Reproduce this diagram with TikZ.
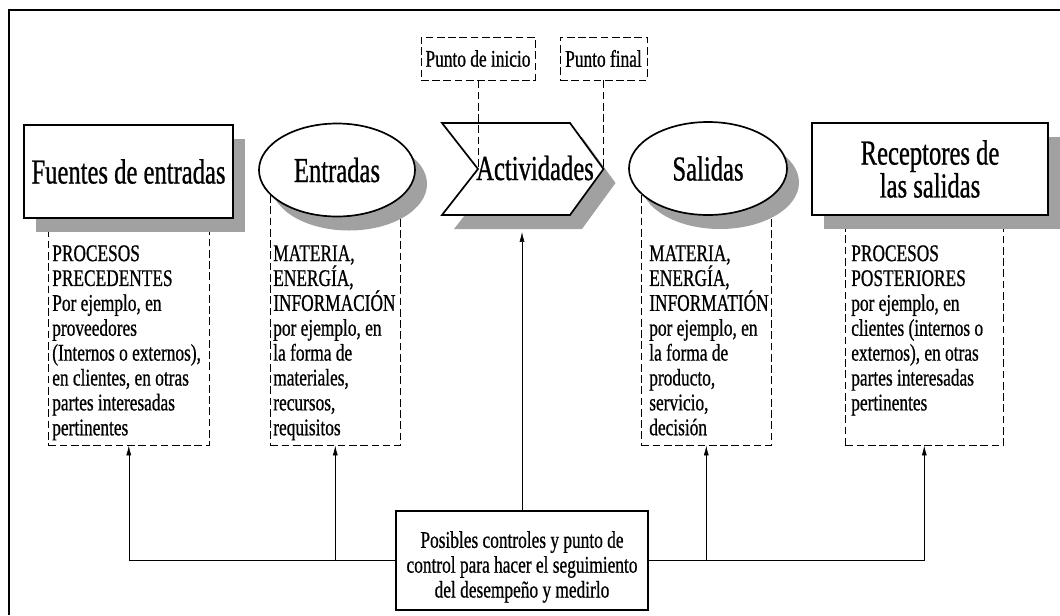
\documentclass[tikz,border=0pt]{standalone}
\usepackage{fontspec}
\setmainfont{Liberation Serif}[FakeStretch=0.725, FakeBold=0.7]
\newfontfamily\titlefamily{Liberation Serif}[FakeStretch=0.70, FakeBold=0.7]
\usetikzlibrary{shapes.geometric, arrows.meta, shadows}
\newcommand{\titlefont}{\titlefamily\fontsize{25}{23.4}\selectfont}
\newcommand{\notefont}{\fontsize{17}{17.7}\selectfont}
\tikzstyle{grayshadow} = [drop shadow={shadow xshift=0.3cm, shadow yshift=-0.35cm, fill=black!37, opacity=1}]
\tikzstyle{source} = [rectangle, draw, line width=1.2pt, fill=white, inner sep=0pt, text centered, font=\titlefont, grayshadow]
\tikzstyle{flow} = [ellipse, draw, line width=1.2pt, fill=white, inner sep=0pt, minimum width=3.9cm, minimum height=2.325cm, font=\titlefont, grayshadow]
\tikzstyle{procshape} = [draw, line width=1.2pt, fill=white, line join=miter, grayshadow]
\tikzstyle{title} = [inner sep=0pt, font=\titlefont]
\tikzstyle{infobox} = [rectangle, draw, thin, dash pattern=on 5.5pt off 2.5pt, anchor=north west, inner sep=0pt]
\tikzstyle{infotext} = [anchor=north west, inner sep=0pt, align=left, font=\notefont]
\tikzstyle{marker} = [rectangle, draw, thin, dash pattern=on 5.5pt off 2.5pt, inner sep=0pt, minimum height=1.075cm, font=\notefont]
\tikzstyle{control} = [rectangle, draw, line width=1.2pt, minimum width=6.3cm, minimum height=2.475cm, align=center, font=\notefont]
\tikzstyle{arrow} = [thin, -{Latex[length=7pt,width=3.5pt]}]
\tikzstyle{guide} = [thin, dash pattern=on 5.5pt off 2.5pt]

\begin{document}
\begin{tikzpicture}
            \useasboundingbox (0,0) rectangle (26.5,-15.375);
            \draw [line width=1.6pt] (0.225,-15.375) -- (0.225,-0.25) -- (26.5,-0.25);
            % dashed boxes first, the shapes cover their tops
            \node [infobox, minimum width=4.025cm, minimum height=6.125cm] at (1.2,-5.0) (fuenteinfo) {};
            \node [infobox, minimum width=3.25cm, minimum height=6.625cm] at (6.75,-4.5) (entradainfo) {};
            \node [infobox, minimum width=3.25cm, minimum height=6.625cm] at (16.025,-4.5) (salidainfo) {};
            \node [infobox, minimum width=3.95cm, minimum height=6.125cm] at (21.125,-5.0) (receptorinfo) {};
            \node [infotext] at (1.3,-6.125) (fuentetxt) {PROCESOS\\PRECEDENTES\\Por ejemplo, en\\proveedores\\(Internos o externos),\\en clientes, en otras\\partes interesadas\\pertinentes};
            \node [infotext] at (6.825,-6.125) (entradatxt) {MATERIA,\\ENERGÍA,\\INFORMACIÓN\\por ejemplo, en\\la forma de\\materiales,\\recursos,\\requisitos};
            \node [infotext] at (16.225,-6.125) (salidatxt) {MATERIA,\\ENERGÍA,\\INFORMATIÓN\\por ejemplo, en\\la forma de\\producto,\\servicio,\\decisión};
            \node [infotext] at (21.275,-6.125) (receptortxt) {PROCESOS\\POSTERIORES\\por ejemplo, en\\clientes (internos o\\externos), en otras\\partes interesadas\\pertinentes};
            % main chain
            \node [source, minimum width=5.225cm, minimum height=2.325cm] at (3.2125,-4.2875) (fuente) {Fuentes de entradas};
            \node [flow] at (8.425,-4.25) (entrada) {Entradas};
            \draw [procshape] (11.05,-3.075) -- (14.25,-3.075) -- (15.0875,-4.225) -- (14.25,-5.375) -- (11.05,-5.375) -- (11.95,-4.225) -- cycle;
            \coordinate (actnotch) at (11.95,-4.225);
            \coordinate (acttip) at (15.0875,-4.225);
            \coordinate (actbase) at (13.05,-5.8);
            \node [title] at (13.375,-4.2) (actividad) {Actividades};
            \node [flow, minimum width=3.95cm] at (17.7,-4.2125) (salida) {Salidas};
            \node [source, minimum width=5.9cm, minimum height=2.3cm, align=center] at (23.25,-4.225) (receptor) {Receptores de\\las salidas};
            % start and end markers
            \node [marker, minimum width=2.85cm] at (11.95,-1.4625) (inicio) {Punto de inicio};
            \node [marker, minimum width=2.175cm] at (15.0875,-1.4625) (final) {Punto final};
            \draw [guide] (inicio.south) -- (actnotch);
            \draw [guide] (final.south) -- (acttip);
            % control
            \node [control] at (13.05,-14.0125) (ctrl) {\rule{0pt}{21pt}Posibles controles y punto de\\control para hacer el seguimiento\\del desempeño y medirlo};
            \draw [arrow] (ctrl.north) -- (actbase);
            \draw [arrow] (ctrl.west) -| (fuenteinfo.south);
            \draw [arrow] (entradainfo.south |- ctrl.west) -- (entradainfo.south);
            \draw [arrow] (ctrl.east) -| (receptorinfo.south);
            \draw [arrow] (salidainfo.south |- ctrl.east) -- (salidainfo.south);
\end{tikzpicture}
\end{document}
